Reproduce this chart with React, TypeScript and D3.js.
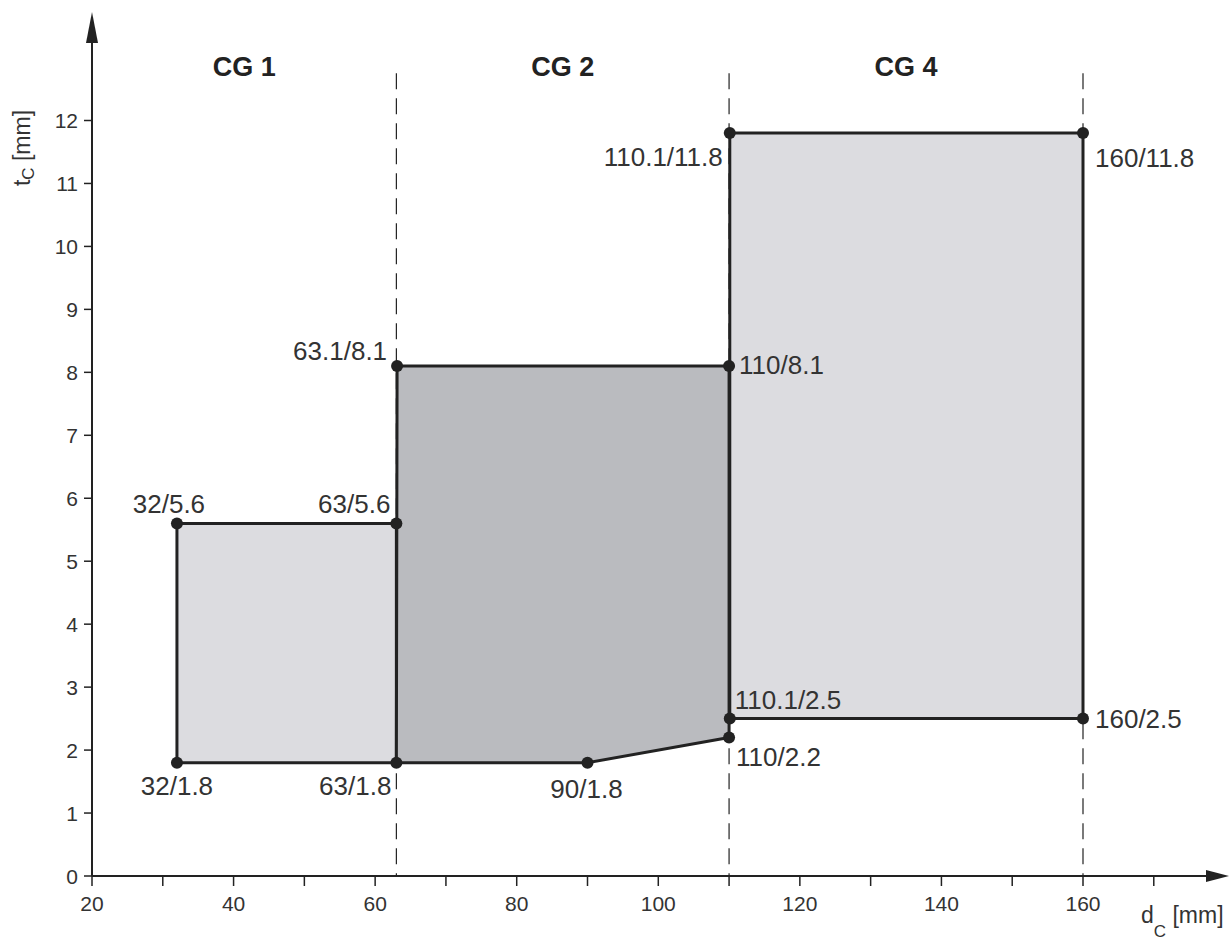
import { useRef, useEffect } from 'react'
import * as d3 from 'd3'

const WIDTH = 1231
const HEIGHT = 950

// polygons (d_C, t_C)
const CG1_D = [32, 63, 63, 32]
const CG1_T = [1.8, 1.8, 5.6, 5.6]
const CG2_D = [63, 90, 110, 110, 63.1]
const CG2_T = [1.8, 1.8, 2.2, 8.1, 8.1]
const CG4_D = [110.1, 160, 160, 110.1]
const CG4_T = [2.5, 2.5, 11.8, 11.8]

// labelled corner points
const POINT_D = [32, 63, 63.1, 32, 63, 90, 110, 110.1, 160, 110, 110.1, 160]
const POINT_T = [5.6, 5.6, 8.1, 1.8, 1.8, 1.8, 2.2, 2.5, 2.5, 8.1, 11.8, 11.8]

// group boundaries and names
const BOUNDARIES = [20, 63, 110, 160]
const GROUPS = ['CG 1', 'CG 2', 'CG 4']

const X_MAJOR = [20, 40, 60, 80, 100, 120, 140, 160]
const X_MINOR = [30, 50, 70, 90, 110, 130, 150, 170]
const Y_TICKS = [0, 1, 2, 3, 4, 5, 6, 7, 8, 9, 10, 11, 12]

// label placement per point: [dx, dy, anchor]
const LABEL_POS: [number, number, string][] = [
  [-8, -10, 'middle'],
  [-6, -10, 'end'],
  [-10, -6, 'end'],
  [0, 32, 'middle'],
  [-5, 32, 'end'],
  [-1, 35, 'middle'],
  [7, 29, 'start'],
  [5, -10, 'start'],
  [12, 9, 'start'],
  [10, 8, 'start'],
  [-7, 33, 'end'],
  [12, 34, 'start'],
]

const FONT = '"Liberation Sans", Arial, Helvetica, sans-serif'
const INK = '#222'
const TEXT = '#333'

export default function App() {
  const svgRef = useRef<SVGSVGElement>(null)

  useEffect(() => {
    if (!svgRef.current) return
    const svg = d3.select(svgRef.current)
    svg.selectAll('*').remove()

    const x = d3.scaleLinear().domain([20, 160]).range([92, 1083])
    const y = d3.scaleLinear().domain([0, 12]).range([876, 120.5])
    const x0 = x(20)
    const y0 = y(0)

    const poly = (ds: number[], ts: number[]) =>
      ds.map((d, i) => `${x(d)},${y(ts[i])}`).join(' ')

    // dashed group boundaries
    BOUNDARIES.slice(1).forEach(b => {
      svg.append('line')
        .attr('x1', x(b)).attr('x2', x(b))
        .attr('y1', y(12.75)).attr('y2', y0)
        .attr('stroke', INK).attr('stroke-width', 1.2)
        .attr('stroke-dasharray', '16 9')
    })

    // areas
    const areas: [number[], number[], string][] = [
      [CG1_D, CG1_T, '#dcdce0'],
      [CG4_D, CG4_T, '#dcdce0'],
      [CG2_D, CG2_T, '#babbbf'],
    ]
    areas.forEach(([ds, ts, fill]) => {
      svg.append('polygon')
        .attr('points', poly(ds, ts))
        .attr('fill', fill)
        .attr('stroke', INK).attr('stroke-width', 3)
        .attr('stroke-linejoin', 'round')
    })

    // axes
    svg.append('line')
      .attr('x1', x0).attr('x2', 1210).attr('y1', y0).attr('y2', y0)
      .attr('stroke', INK).attr('stroke-width', 2)
    svg.append('path')
      .attr('d', `M1229,${y0} L1206,${y0 - 6} L1206,${y0 + 6} Z`)
      .attr('fill', INK)
    svg.append('line')
      .attr('x1', x0).attr('x2', x0).attr('y1', y0).attr('y2', 40)
      .attr('stroke', INK).attr('stroke-width', 2)
    svg.append('path')
      .attr('d', `M${x0},12 L${x0 - 6},43 L${x0 + 6},43 Z`)
      .attr('fill', INK)

    // x ticks
    X_MAJOR.concat(X_MINOR).forEach(v => {
      svg.append('line')
        .attr('x1', x(v)).attr('x2', x(v)).attr('y1', y0).attr('y2', y0 + 10)
        .attr('stroke', INK).attr('stroke-width', 1.5)
    })
    X_MAJOR.forEach(v => {
      svg.append('text')
        .attr('x', x(v)).attr('y', 911)
        .attr('text-anchor', 'middle')
        .attr('font-family', FONT).attr('font-size', 21).attr('fill', TEXT)
        .text(v)
    })

    // y ticks
    Y_TICKS.forEach(v => {
      svg.append('line')
        .attr('x1', x0 - 8).attr('x2', x0).attr('y1', y(v)).attr('y2', y(v))
        .attr('stroke', INK).attr('stroke-width', 1.5)
      svg.append('text')
        .attr('x', 78).attr('y', y(v) + 7.5)
        .attr('text-anchor', 'end')
        .attr('font-family', FONT).attr('font-size', 21).attr('fill', TEXT)
        .text(v)
    })

    // axis titles
    const yt = svg.append('text')
      .attr('transform', 'translate(30,148) rotate(-90)')
      .attr('text-anchor', 'middle')
      .attr('font-family', FONT).attr('font-size', 23).attr('fill', TEXT)
    yt.append('tspan').text('t')
    yt.append('tspan').attr('font-size', 17).attr('dy', 4).text('C')
    yt.append('tspan').attr('dy', -4).text(' [mm]')

    const xt = svg.append('text')
      .attr('x', 1141).attr('y', 923)
      .attr('font-family', FONT).attr('font-size', 23).attr('fill', TEXT)
    xt.append('tspan').text('d')
    xt.append('tspan').attr('font-size', 17).attr('dy', 14).text('C')
    xt.append('tspan').attr('dy', -14).text(' [mm]')

    // group names
    GROUPS.forEach((g, i) => {
      svg.append('text')
        .attr('x', x((BOUNDARIES[i] + BOUNDARIES[i + 1]) / 2)).attr('y', 76)
        .attr('text-anchor', 'middle')
        .attr('font-family', FONT).attr('font-size', 27).attr('font-weight', 700)
        .attr('fill', INK)
        .text(g)
    })

    // points and labels
    POINT_D.forEach((d, i) => {
      const cx = x(d)
      const cy = y(POINT_T[i])
      svg.append('circle')
        .attr('cx', cx).attr('cy', cy).attr('r', 6)
        .attr('fill', INK)
      const [dx, dy, anchor] = LABEL_POS[i]
      svg.append('text')
        .attr('x', cx + dx).attr('y', cy + dy)
        .attr('text-anchor', anchor)
        .attr('font-family', FONT).attr('font-size', 26).attr('fill', TEXT)
        .text(`${d}/${POINT_T[i]}`)
    })
  }, [])

  return (
    <svg
      ref={svgRef}
      width={WIDTH}
      height={HEIGHT}
      style={{ position: 'absolute', left: 0, top: 0, background: '#fff' }}
    />
  )
}
